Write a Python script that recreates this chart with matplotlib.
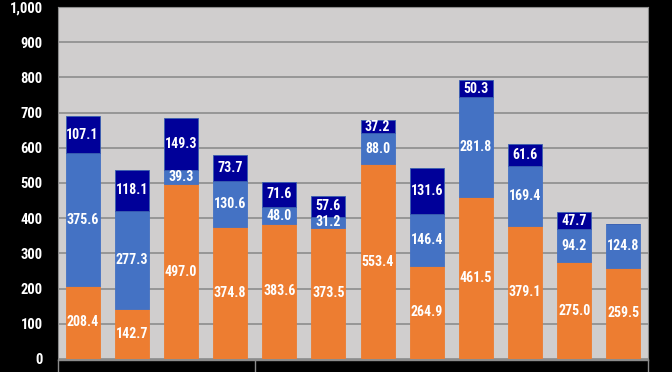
import matplotlib.pyplot as plt
import numpy as np
from matplotlib import font_manager
from matplotlib.ticker import FuncFormatter

# values (bottom to top)
orange = [208.4, 142.7, 497.0, 374.8, 383.6, 373.5, 553.4, 264.9, 461.5, 379.1, 275.0, 259.5]
blue = [375.6, 277.3, 39.3, 130.6, 48.0, 31.2, 88.0, 146.4, 281.8, 169.4, 94.2, 124.8]
navy = [107.1, 118.1, 149.3, 73.7, 71.6, 57.6, 37.2, 131.6, 50.3, 61.6, 47.7, 0]

# pick a narrow face if one is there
names = {f.name for f in font_manager.fontManager.ttflist}
narrow = None
for cand in ['Liberation Sans Narrow', 'DejaVu Sans Condensed', 'Roboto Condensed', 'Open Sans Condensed']:
    if cand in names:
        narrow = cand
        break
if narrow:
    plt.rcParams['font.family'] = [narrow, 'DejaVu Sans']
    stretch = 'normal'
else:
    plt.rcParams['font.family'] = ['DejaVu Sans']
    stretch = 'condensed'

fig = plt.figure(figsize=(6.72, 3.72), dpi=100, facecolor='black')
ax = fig.add_axes([58 / 672, 1 - 359 / 372, 590 / 672, 352 / 372])
ax.set_facecolor('#d0cece')

x = np.arange(len(orange))
w = 0.69
b2 = np.array(orange)
b3 = b2 + np.array(blue)
series = [(orange, 0, '#ed7d31'), (blue, b2, '#4472c4'), (navy, b3, '#000099')]
for vals, bot, col in series:
    bars = ax.bar(x, vals, w, bottom=bot, color=col, edgecolor='#3a5fb0' if col == '#000099' else col,
                  linewidth=0.6, zorder=3)
    for rect, v in zip(bars, vals):
        if v <= 0:
            continue
        ax.text(rect.get_x() + rect.get_width() / 2, rect.get_y() + rect.get_height() / 2,
                f'{v:.1f}', ha='center', va='center', color='white', fontsize=10,
                fontweight='bold', fontstretch=stretch, zorder=4)

ax.set_xlim(-0.5, len(orange) - 0.5)
ax.set_ylim(0, 1000)
ax.set_yticks(range(0, 1001, 100))
ax.yaxis.set_major_formatter(FuncFormatter(lambda v, p: f'{int(v):,}'))
ax.grid(axis='y', color='#8c8c8c', linewidth=1.2, zorder=1)
ax.tick_params(axis='y', length=0, pad=11, labelsize=10.5, labelcolor='white')
for t in ax.get_yticklabels():
    t.set_fontweight('bold')
    t.set_fontstretch(stretch)
ax.set_xticks([])
for s in ['top', 'right', 'left', 'bottom']:
    ax.spines[s].set_color('#8c8c8c')

# category box below the axis
ax.plot([-0.5, 11.5], [-4, -4], color='#8c8c8c', lw=1, clip_on=False)
for xs in [-0.5, 3.5, 11.5]:
    ax.plot([xs, xs], [-4, -40], color='#8c8c8c', lw=1, clip_on=False)

fig.savefig('out.png', dpi=100, facecolor='black')
